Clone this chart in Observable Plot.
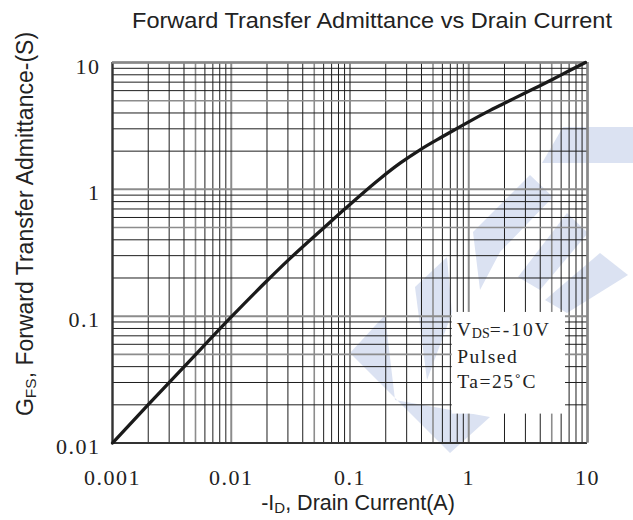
<!DOCTYPE html>
<html><head><meta charset="utf-8">
<script src="https://cdn.jsdelivr.net/npm/d3@7"></script>
<script src="https://cdn.jsdelivr.net/npm/@observablehq/plot@0.6"></script>
<style>
html,body{margin:0;padding:0;background:#fff;}
#chart{width:633px;height:520px;}
</style></head><body><div id="chart"></div>
<script>
// Curve: -I_D (A) vs G_FS (S)
const drainCurrent = [0.001, 0.002, 0.004, 0.01, 0.0201, 0.0305, 0.064, 0.0887, 0.1225, 0.18, 0.266, 0.392, 0.578, 0.748, 0.908, 1.1, 1.43, 1.85, 2.39, 3.1, 4.02, 5.2, 6.75, 9.6];
const admittance   = [0.01, 0.0201, 0.0398, 0.0986, 0.191, 0.279, 0.524, 0.689, 0.90, 1.219, 1.615, 2.06, 2.55, 2.92, 3.24, 3.58, 4.08, 4.61, 5.19, 5.85, 6.59, 7.44, 8.45, 10];

const xTicks = [0.001, 0.01, 0.1, 1, 10];
const xTickLabels = ["0.001", "0.01", "0.1", "1", "10"];
const yTicks = [0.01, 0.1, 1, 10];
const yTickLabels = ["0.01", "0.1", "1", "10"];

const titleText = "Forward Transfer Admittance vs Drain Current";
const conditionLines = ["Pulsed", "Ta=25\u02DAC"];
// annotation box in data units (x: A, y: S)
const boxX = [0.726, 6.53];
const boxY = [0.0169, 0.107];
const condX = 0.80;
const condY = [0.069, 0.043, 0.0269];

const curve = drainCurrent.map((x, i) => ({x, y: admittance[i]}));
const xGrid = [];
for (let e = -3; e <= 0; e++) for (let m = 1; m <= 9; m++) xGrid.push({v: m * 10 ** e, m});
xGrid.push({v: 10, m: 10});
const yGrid = [];
for (let e = -2; e <= 0; e++) for (let m = 1; m <= 9; m++) yGrid.push({v: m * 10 ** e, m});
yGrid.push({v: 10, m: 10});

const gStroke = d => (d.m === 1 || d.m === 5 || d.m === 10) ? "#8c8c8c" : "#1e1e1e";
const gWidth = d => d.m === 1 || d.m === 10 ? 2 : d.m === 5 ? 1.6 : 1;

const plot = Plot.plot({
  width: 633, height: 520,
  marginLeft: 112, marginRight: 46, marginTop: 62, marginBottom: 77.5,
  x: {type: "log", domain: [0.001, 10], axis: null},
  y: {type: "log", domain: [0.01, 10], axis: null},
  style: {background: "transparent", overflow: "visible"},
  marks: [
    Plot.ruleX(xGrid, {x: "v", stroke: gStroke, strokeWidth: gWidth}),
    Plot.ruleY(yGrid, {y: "v", stroke: gStroke, strokeWidth: gWidth}),
    Plot.ruleX([0.001], {stroke: "#333", strokeWidth: 2.2}),
    Plot.ruleY([0.01], {stroke: "#333", strokeWidth: 2.2}),
    Plot.ruleX([10], {stroke: "#888", strokeWidth: 2.5}),
    Plot.ruleY([10], {stroke: "#888", strokeWidth: 2.5}),
    Plot.rect([0], {x1: () => boxX[0], x2: () => boxX[1], y1: () => boxY[0], y2: () => boxY[1], fill: "white"}),
    Plot.line(curve, {x: "x", y: "y", stroke: "#1a1a1a", strokeWidth: 3.3, curve: "monotone-x"}),
    Plot.text(xTicks, {x: d => d, text: (d, i) => xTickLabels[i], frameAnchor: "bottom", lineAnchor: "bottom", dy: 42,
      fontSize: 22, fontFamily: "Liberation Serif", fill: "#222"}),
    Plot.text(yTicks, {y: d => d, text: (d, i) => yTickLabels[i], frameAnchor: "left", textAnchor: "end", lineAnchor: "bottom", dx: -12, dy: 11,
      fontSize: 22, fontFamily: "Liberation Serif", fill: "#222"}),
    Plot.text(conditionLines, {x: () => condX, y: (d, i) => condY[i + 1], text: d => d, textAnchor: "start", lineAnchor: "bottom",
      fontSize: 19.5, fontFamily: "Liberation Serif", fill: "#222"})
  ]
});

const svg = d3.select(plot);
svg.selectAll("g[font-family='Liberation Serif']").style("letter-spacing", "1.5px");

// watermark (decorative logo behind the grid)
const wm = [
  [[563,127],[633,127],[633,163],[542,163]],
  [[530,175],[553,197],[500,252],[480,290],[473,232]],
  [[567,213],[588,233],[540,290],[518,277]],
  [[600,253],[628,275],[567,313],[545,300]],
  [[415,287],[447,257],[452,313],[427,380]],
  [[350,353],[385,315],[395,400],[490,417],[450,453]]
];
const wg = svg.insert("g", "g").attr("fill", "#dbe2f2");
wm.forEach(p => wg.append("polygon").attr("points", p.map(q => q.join(",")).join(" ")));

// title
svg.append("text").attr("x", 132).attr("y", 28).attr("text-anchor", "start").attr("font-family", "Liberation Sans").attr("font-size", 22.5)
  .attr("fill", "#222").attr("textLength", 480).attr("lengthAdjust", "spacingAndGlyphs").text(titleText);

// x label with subscript
const xl = svg.append("text").attr("x", 358).attr("y", 510).attr("text-anchor", "middle")
  .attr("font-family", "Liberation Sans").attr("font-size", 21.5).attr("fill", "#222");
xl.append("tspan").text("-I");
xl.append("tspan").attr("font-size", 15).attr("dy", 3).text("D");
xl.append("tspan").attr("dy", -3).text(", Drain Current(A)");

// y label with subscript
const yl = svg.append("text").attr("transform", "translate(33,224) rotate(-90)").attr("text-anchor", "middle")
  .attr("font-family", "Liberation Sans").attr("font-size", 23).attr("fill", "#222");
yl.append("tspan").text("G");
yl.append("tspan").attr("font-size", 15.5).attr("dy", 3).text("FS");
yl.append("tspan").attr("dy", -3).text(", Forward Transfer Admittance-(S)");

// V_DS condition line
const xs = plot.scale("x"), ys = plot.scale("y");
const vt = svg.append("text").attr("x", xs.apply(condX)).attr("y", ys.apply(condY[0])).attr("text-anchor", "start")
  .attr("font-family", "Liberation Serif").attr("font-size", 19.5).attr("fill", "#222");
vt.append("tspan").text("V");
vt.append("tspan").attr("font-size", 14).attr("dy", 2).attr("dx", 1).text("DS");
vt.append("tspan").attr("dy", -2).style("letter-spacing", "2px").text("=-10V");

document.getElementById("chart").append(plot);
</script></body></html>
